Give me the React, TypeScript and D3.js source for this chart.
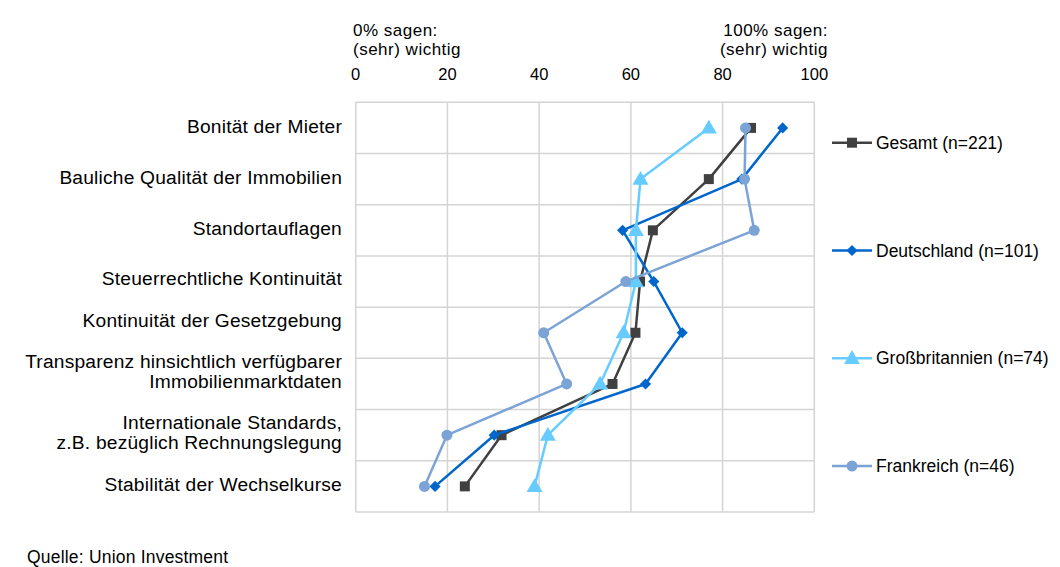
import React from 'react';
import * as d3 from 'd3';

const CATEGORIES = [
  'Bonität der Mieter',
  'Bauliche Qualität der Immobilien',
  'Standortauflagen',
  'Steuerrechtliche Kontinuität',
  'Kontinuität der Gesetzgebung',
  'Transparenz hinsichtlich verfügbarer\nImmobilienmarktdaten',
  'Internationale Standards,\nz.B. bezüglich Rechnungslegung',
  'Stabilität der Wechselkurse',
];

const GESAMT = [86.2, 77.0, 64.8, 62.0, 61.0, 56.0, 31.8, 23.8];
const DEUTSCHLAND = [93.1, 84.2, 58.2, 65.0, 71.2, 63.2, 30.2, 17.3];
const GROSSBRITANNIEN = [77.0, 62.1, 61.1, 61.1, 58.4, 53.3, 41.9, 39.0];
const FRANKREICH = [85.0, 84.8, 86.9, 58.9, 41.0, 46.0, 19.9, 15.0];

const X_TICKS = [0, 20, 40, 60, 80, 100];

type Marker = 'square' | 'diamond' | 'triangle' | 'circle';

const SERIES: { name: string; values: number[]; color: string; marker: Marker }[] = [
  { name: 'Gesamt (n=221)', values: GESAMT, color: '#404040', marker: 'square' },
  { name: 'Deutschland (n=101)', values: DEUTSCHLAND, color: '#0066cc', marker: 'diamond' },
  { name: 'Großbritannien (n=74)', values: GROSSBRITANNIEN, color: '#66ccff', marker: 'triangle' },
  { name: 'Frankreich (n=46)', values: FRANKREICH, color: '#7ba3d6', marker: 'circle' },
];

// Excel puts some category labels a little off the band centre
const LABEL_NUDGE = [-2, -2, -2, -3, -13, -13, -3, -2];

const WIDTH = 1060;
const HEIGHT = 567;
const plot = { left: 355.7, right: 814.3, top: 102.3, bottom: 512 };
const FONT = '"Liberation Sans", Arial, sans-serif';

const symbolPath = (m: Marker) => {
  if (m === 'diamond') return d3.symbol().type(d3.symbolSquare).size(62)() ?? '';
  const type = m === 'square' ? d3.symbolSquare : m === 'triangle' ? d3.symbolTriangle : d3.symbolCircle;
  const size = m === 'square' ? 100 : m === 'triangle' ? 110 : 95;
  return d3.symbol().type(type).size(size)() ?? '';
};

const markerTransform = (m: Marker, px: number, py: number) =>
  m === 'diamond' ? `translate(${px},${py}) rotate(45)` : `translate(${px},${py + (m === 'triangle' ? 1 : 0)})`;

const App: React.FC = () => {
  const x = d3.scaleLinear().domain([0, 100]).range([plot.left, plot.right]);
  const y = d3.scaleBand().domain(CATEGORIES).range([plot.top, plot.bottom]);
  const cy = (c: string) => (y(c) ?? 0) + y.bandwidth() / 2;

  const line = d3
    .line<number>()
    .x((d) => x(d))
    .y((_, i) => cy(CATEGORIES[i]));

  const rowEdges = CATEGORIES.map((c) => y(c) ?? 0).concat([plot.bottom]);

  return (
    <svg
      width={WIDTH}
      height={HEIGHT}
      style={{ position: 'absolute', left: 0, top: 0, background: '#fff' }}
      fontFamily={FONT}
    >
      {/* grid */}
      <g stroke="#d4d4d4" strokeWidth={1.5} fill="none">
        {X_TICKS.map((t) => (
          <line key={t} x1={x(t)} x2={x(t)} y1={plot.top} y2={plot.bottom} />
        ))}
        {rowEdges.map((e, i) => (
          <line key={i} x1={plot.left} x2={plot.right} y1={e} y2={e} />
        ))}
      </g>

      {/* top axis */}
      <g fontSize={16.5} fill="#000">
        {X_TICKS.map((t) => (
          <text key={t} x={x(t)} y={79.5} textAnchor="middle">
            {t}
          </text>
        ))}
      </g>
      <g fontSize={17} letterSpacing={0.5} fill="#000">
        <text x={353} y={36}>0% sagen:</text>
        <text x={353} y={54.5}>(sehr) wichtig</text>
        <text x={828} y={36} textAnchor="end">100% sagen:</text>
        <text x={828} y={54.5} textAnchor="end">(sehr) wichtig</text>
      </g>

      {/* category labels */}
      <g fontSize={19.2} letterSpacing={0.2} fill="#000" textAnchor="end">
        {CATEGORIES.flatMap((c, i) => {
          const lines = c.split('\n');
          const mid = cy(c) + LABEL_NUDGE[i];
          const lh = 20;
          const first = mid - ((lines.length - 1) * lh) / 2 + 6.8;
          return lines.map((l, j) => (
            <text key={`${i}-${j}`} x={342} y={first + j * lh}>
              {l}
            </text>
          ));
        })}
      </g>

      {/* series */}
      {SERIES.map((s) => (
        <g key={s.name}>
          <path d={line(s.values) ?? ''} fill="none" stroke={s.color} strokeWidth={2.5} strokeLinejoin="round" />
          {s.values.map((v, i) => (
            <path key={i} d={symbolPath(s.marker)} transform={markerTransform(s.marker, x(v), cy(CATEGORIES[i]))} fill={s.color} />
          ))}
        </g>
      ))}

      {/* legend */}
      <g fontSize={17.5} fill="#000">
        {SERIES.map((s, i) => {
          const ly = 142.7 + i * 107.8;
          return (
            <g key={s.name} transform={`translate(832,${ly})`}>
              <line x1={0} x2={40} y1={0} y2={0} stroke={s.color} strokeWidth={2.5} />
              <path d={symbolPath(s.marker)} transform={markerTransform(s.marker, 20, 0)} fill={s.color} />
              <text x={44} y={6}>
                {s.name}
              </text>
            </g>
          );
        })}
      </g>

      <text x={27} y={563} fontSize={17.5} letterSpacing={0.2} fill="#000">
        Quelle: Union Investment
      </text>
    </svg>
  );
};

export default App;
